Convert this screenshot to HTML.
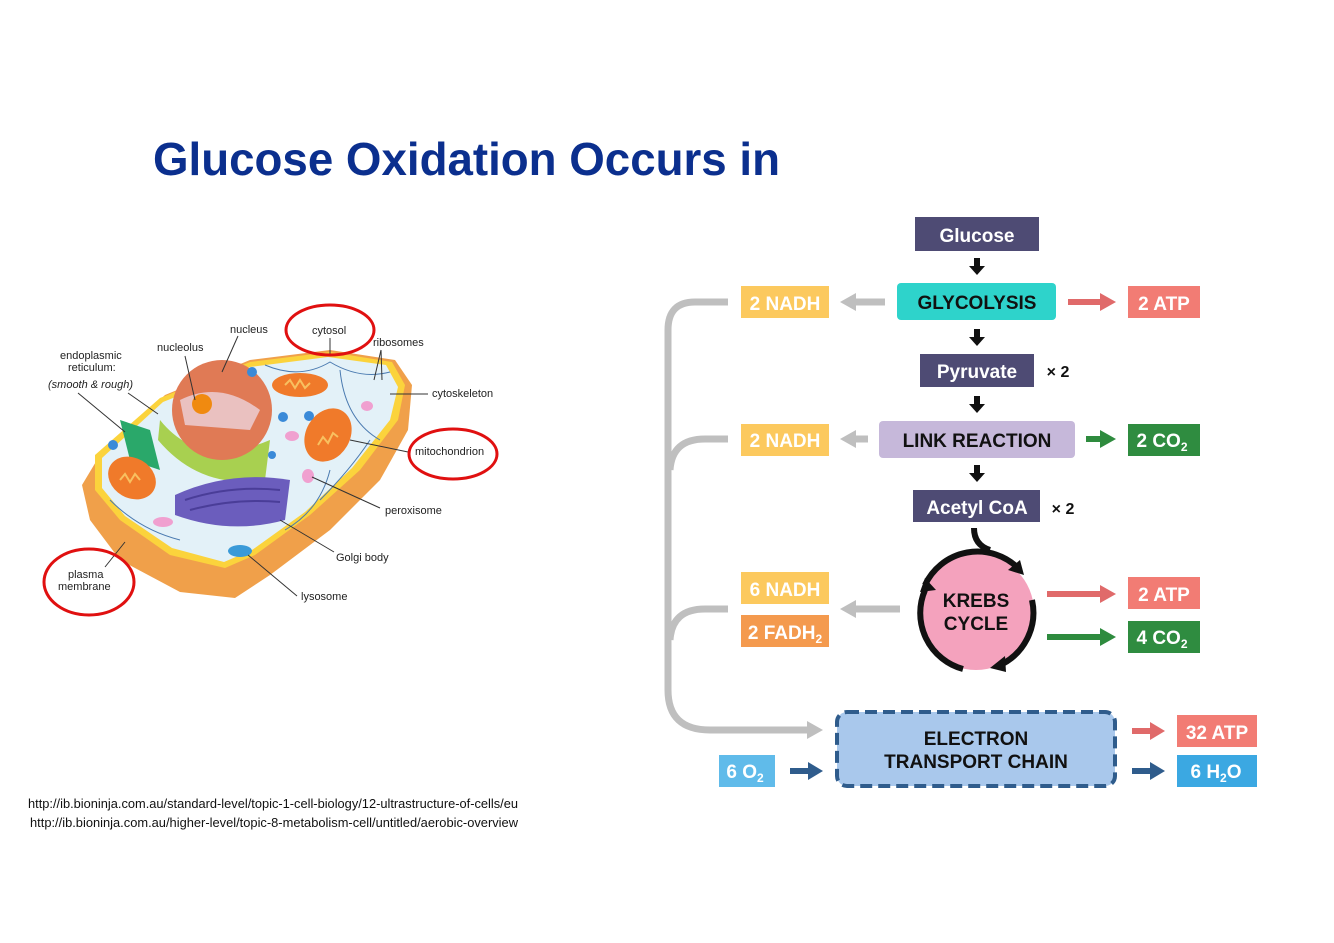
<!DOCTYPE html>
<html><head><meta charset="utf-8"><style>
html,body{margin:0;padding:0;background:#fff;}
svg{display:block;}
</style></head><body>
<svg width="1334" height="943" viewBox="0 0 1334 943" xmlns="http://www.w3.org/2000/svg" font-family="Liberation Sans, sans-serif">
<rect width="1334" height="943" fill="#fff"/>
<text x="153" y="175" font-size="46" font-weight="bold" fill="#0b2f8e" textLength="627" lengthAdjust="spacingAndGlyphs">Glucose Oxidation Occurs in</text>

<!-- cell -->
<g>
<path d="M100,455 L165,395 L250,360 L330,350 L395,360 L412,385 L408,430 L380,480 L330,530 L270,575 L235,598 L180,592 L120,560 L90,520 L82,485 Z" fill="#f0a04a"/>
<path d="M95,455 L160,398 L250,362 L330,352 L392,362 L405,385 L398,420 L360,470 L310,515 L255,555 L225,568 L170,555 L120,520 L95,490 Z" fill="#fbd33c"/>
<path d="M102,458 L163,402 L250,367 L328,357 L386,365 L398,387 L390,420 L352,468 L305,512 L252,550 L224,562 L172,548 L125,516 L102,488 Z" fill="#e3f1f8"/>
<g fill="none" stroke="#4a7ab0" stroke-width="1">
<path d="M265,365 Q300,380 330,362 Q360,380 390,372"/>
<path d="M340,370 Q345,420 380,440"/><path d="M320,500 Q350,470 370,440"/>
<path d="M110,500 Q140,530 180,540"/><path d="M285,530 Q320,510 330,470"/>
</g>
<path d="M160,420 Q200,470 270,440 L265,480 Q200,490 158,440 Z" fill="#a8d050"/>
<circle cx="222" cy="410" r="50" fill="#e07a55"/>
<path d="M180,400 Q220,380 260,410 L250,430 L185,425 Z" fill="#eac1c0"/>
<circle cx="202" cy="404" r="10" fill="#f08a10"/>
<path d="M120,420 L150,430 L160,470 L130,460 Z" fill="#2aa86a"/>
<path d="M175,495 Q230,470 290,480 L285,520 Q230,535 175,515 Z" fill="#6b5dbd"/>
<g stroke="#4a3d98" stroke-width="2" fill="none"><path d="M185,500 Q230,485 280,490"/><path d="M190,510 Q235,498 280,502"/></g>
<ellipse cx="300" cy="385" rx="28" ry="12" fill="#f07a2a"/>
<ellipse cx="328" cy="435" rx="22" ry="28" fill="#f07a2a" transform="rotate(30 328 435)"/>
<ellipse cx="132" cy="478" rx="25" ry="20" fill="#f07a2a" transform="rotate(30 132 478)"/>
<g fill="none" stroke="#f8c060" stroke-width="2"><path d="M285,385 l5,-5 l5,8 l5,-8 l5,8 l5,-5"/><path d="M318,445 l5,-8 l5,6 l5,-10 l5,4"/><path d="M120,480 l5,-6 l5,8 l5,-8 l5,6"/></g>
<ellipse cx="240" cy="551" rx="12" ry="6" fill="#3a9ad8"/>
<ellipse cx="163" cy="522" rx="10" ry="5" fill="#f0a0d0"/>
<ellipse cx="367" cy="406" rx="6" ry="5" fill="#f0a0d0"/>
<ellipse cx="308" cy="476" rx="6" ry="7" fill="#f0a0d0"/>
<ellipse cx="292" cy="436" rx="7" ry="5" fill="#f0a0d0"/>
<circle cx="283" cy="417" r="5" fill="#3a8ad8"/><circle cx="309" cy="416" r="5" fill="#3a8ad8"/><circle cx="272" cy="455" r="4" fill="#3a8ad8"/><circle cx="113" cy="445" r="5" fill="#3a8ad8"/><circle cx="252" cy="372" r="5" fill="#3a8ad8"/>
</g>
<g stroke="#333" stroke-width="1" fill="none">
<line x1="78" y1="393" x2="125" y2="432"/><line x1="128" y1="393" x2="158" y2="414"/>
<line x1="185" y1="356" x2="195" y2="400"/><line x1="238" y1="336" x2="222" y2="372"/>
<line x1="330" y1="338" x2="330" y2="355"/><line x1="381" y1="350" x2="374" y2="380"/><line x1="381" y1="350" x2="382" y2="380"/>
<line x1="428" y1="394" x2="390" y2="394"/><line x1="408" y1="452" x2="350" y2="440"/>
<line x1="380" y1="508" x2="312" y2="477"/><line x1="334" y1="552" x2="280" y2="520"/>
<line x1="297" y1="596" x2="248" y2="555"/><line x1="105" y1="567" x2="125" y2="542"/>
</g>
<g font-size="11" fill="#222">
<text x="230" y="333">nucleus</text><text x="157" y="351">nucleolus</text>
<text x="60" y="359">endoplasmic</text><text x="68" y="371">reticulum:</text>
<text x="48" y="388" font-style="italic">(smooth &amp; rough)</text>
<text x="312" y="334">cytosol</text><text x="373" y="346">ribosomes</text>
<text x="432" y="397">cytoskeleton</text><text x="415" y="455">mitochondrion</text>
<text x="385" y="514">peroxisome</text><text x="336" y="561">Golgi body</text>
<text x="301" y="600">lysosome</text><text x="68" y="578">plasma</text><text x="58" y="590">membrane</text>
</g>
<g fill="none" stroke="#e01010" stroke-width="3">
<ellipse cx="330" cy="330" rx="44" ry="25"/><ellipse cx="453" cy="454" rx="44" ry="25"/><ellipse cx="89" cy="582" rx="45" ry="33"/>
</g>

<g font-size="12.5" fill="#111">
<text x="28" y="808" textLength="490" lengthAdjust="spacingAndGlyphs">http://ib.bioninja.com.au/standard-level/topic-1-cell-biology/12-ultrastructure-of-cells/eu</text>
<text x="30" y="827" textLength="488" lengthAdjust="spacingAndGlyphs">http://ib.bioninja.com.au/higher-level/topic-8-metabolism-cell/untitled/aerobic-overview</text>
</g>

<!-- gray connectors -->
<g fill="none" stroke="#bfbfbf" stroke-width="7">
<path d="M728,302 L695,302 Q668,302 668,330 L668,690 Q668,730 710,730 L815,730"/>
<path d="M728,439 L705,439 Q672,439 670,470"/>
<path d="M728,609 L705,609 Q672,609 670,640"/>
<line x1="885" y1="302" x2="855" y2="302"/><line x1="868" y1="439" x2="855" y2="439"/><line x1="900" y1="609" x2="855" y2="609"/>
</g>
<g fill="#bfbfbf">
<polygon points="840,302 856,293 856,311"/><polygon points="840,439 856,430 856,448"/><polygon points="840,609 856,600 856,618"/>
<polygon points="823,730 807,721 807,739"/>
</g>
<!-- colored arrows -->
<g stroke-width="6">
<line x1="1068" y1="302" x2="1103" y2="302" stroke="#e06a6a"/>
<line x1="1086" y1="439" x2="1103" y2="439" stroke="#2e8b3e"/>
<line x1="1047" y1="594" x2="1103" y2="594" stroke="#e06a6a"/>
<line x1="1047" y1="637" x2="1103" y2="637" stroke="#2e8b3e"/>
<line x1="1132" y1="731" x2="1152" y2="731" stroke="#e06a6a"/>
<line x1="1132" y1="771" x2="1152" y2="771" stroke="#2f5c8c"/>
<line x1="790" y1="771" x2="812" y2="771" stroke="#2f5c8c"/>
</g>
<g>
<polygon points="1116,302 1100,293 1100,311" fill="#e06a6a"/>
<polygon points="1116,439 1100,430 1100,448" fill="#2e8b3e"/>
<polygon points="1116,594 1100,585 1100,603" fill="#e06a6a"/>
<polygon points="1116,637 1100,628 1100,646" fill="#2e8b3e"/>
<polygon points="1165,731 1150,722 1150,740" fill="#e06a6a"/>
<polygon points="1165,771 1150,762 1150,780" fill="#2f5c8c"/>
<polygon points="823,771 808,762 808,780" fill="#2f5c8c"/>
</g>
<!-- black down arrows -->
<g fill="#111">
<path d="M974,258 h6 v8 h5 l-8,9 l-8,-9 h5z"/>
<path d="M974,329 h6 v8 h5 l-8,9 l-8,-9 h5z"/>
<path d="M974,396 h6 v8 h5 l-8,9 l-8,-9 h5z"/>
<path d="M974,465 h6 v8 h5 l-8,9 l-8,-9 h5z"/>
</g>
<!-- boxes -->
<rect x="915" y="217" width="124" height="34" fill="#4e4b74"/>
<rect x="897" y="283" width="159" height="37" rx="4" fill="#2ed3cb"/>
<rect x="920" y="354" width="114" height="33" fill="#4e4b74"/>
<rect x="879" y="421" width="196" height="37" rx="4" fill="#c6b8da"/>
<rect x="913" y="490" width="127" height="32" fill="#4e4b74"/>
<g fill="#fcc95e"><rect x="741" y="286" width="88" height="32"/><rect x="741" y="424" width="88" height="32"/><rect x="741" y="572" width="88" height="32"/></g>
<rect x="741" y="615" width="88" height="32" fill="#f49a4e"/>
<g fill="#f27c74"><rect x="1128" y="286" width="72" height="32"/><rect x="1128" y="577" width="72" height="32"/><rect x="1177" y="715" width="80" height="32"/></g>
<g fill="#2f8c40"><rect x="1128" y="424" width="72" height="32"/><rect x="1128" y="621" width="72" height="32"/></g>
<rect x="1177" y="755" width="80" height="32" fill="#3ba8e2"/>
<rect x="719" y="755" width="56" height="32" fill="#60bbea"/>
<rect x="837" y="712" width="278" height="74" rx="10" fill="#a9c8ec" stroke="#2f5c8c" stroke-width="4" stroke-dasharray="12,6"/>
<!-- krebs -->
<circle cx="976" cy="612" r="58" fill="#f4a2bd"/>
<g fill="none" stroke="#111" stroke-width="6">
<path d="M925,585 A58,58 0 0 1 1018,568"/>
<path d="M1032,600 A58,58 0 0 1 998,666"/>
<path d="M963,669 A58,58 0 0 1 925,590"/>
<path d="M974,528 Q974,545 990,550"/>
</g>
<g fill="#111">
<polygon points="1024,575 1008,570 1020,560"/>
<polygon points="990,668 1005,656 1006,672"/>
<polygon points="925,578 936,590 920,592"/>
</g>
<!-- text -->
<g font-weight="bold" text-anchor="middle">
<g fill="#fff" font-size="19">
<text x="977" y="242">Glucose</text><text x="977" y="378">Pyruvate</text><text x="977" y="514">Acetyl CoA</text>
<text x="785" y="310">2 NADH</text><text x="785" y="447">2 NADH</text><text x="785" y="596">6 NADH</text>
<text x="785" y="639">2 FADH<tspan font-size="12" dy="4">2</tspan></text>
<text x="1164" y="310">2 ATP</text><text x="1164" y="601">2 ATP</text><text x="1217" y="739">32 ATP</text>
<text x="1162" y="447">2 CO<tspan font-size="12" dy="4">2</tspan></text>
<text x="1162" y="644">4 CO<tspan font-size="12" dy="4">2</tspan></text>
<text x="1216" y="778">6 H<tspan font-size="12" dy="4">2</tspan><tspan dy="-4">O</tspan></text>
<text x="745" y="778">6 O<tspan font-size="12" dy="4">2</tspan></text>
</g>
<g fill="#111" font-size="19">
<text x="977" y="309">GLYCOLYSIS</text><text x="977" y="447">LINK REACTION</text>
<text x="976" y="607">KREBS</text><text x="976" y="630">CYCLE</text>
<text x="976" y="745">ELECTRON</text><text x="976" y="768">TRANSPORT CHAIN</text>
<text x="1058" y="377" font-size="16">× 2</text><text x="1063" y="514" font-size="16">× 2</text>
</g>
</g>
</svg>
</body></html>
